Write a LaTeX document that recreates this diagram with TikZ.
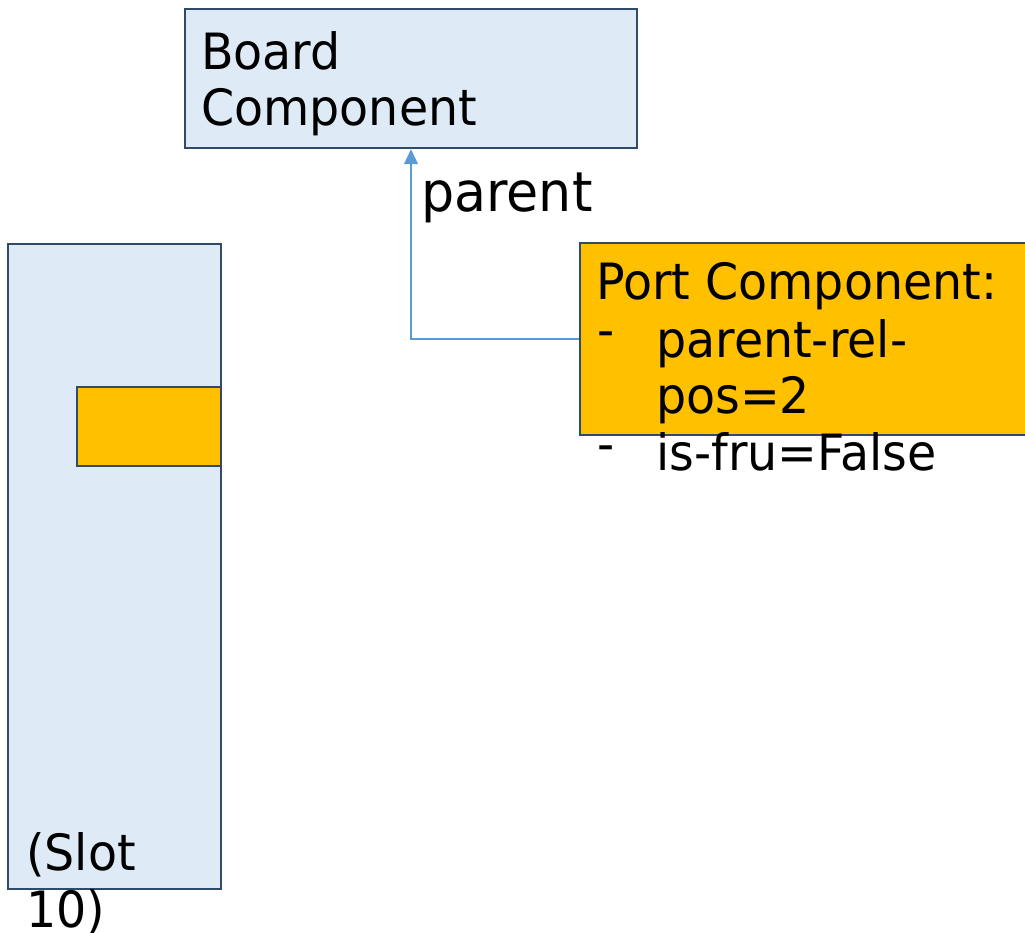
\documentclass[tikz,border=0pt]{standalone}
\usepackage{fontspec}
\setmainfont{DejaVu Sans}[FakeStretch=0.95]
\usetikzlibrary{arrows.meta}
\definecolor{boxfill}{HTML}{DEEBF7}
\definecolor{boxline}{HTML}{2F4B68}
\definecolor{portfill}{HTML}{FFC000}
\definecolor{linkblue}{HTML}{5B9BD5}
\begin{document}
\begin{tikzpicture}[x=1pt,y=-1pt,
  box/.style={draw=boxline, line width=2.5pt, fill=boxfill, inner sep=0pt},
  portbox/.style={draw=boxline, line width=2.5pt, fill=portfill, inner sep=0pt},
  lbl/.style={anchor=base west, inner sep=0pt, font=\fontsize{50}{56}\selectfont},
  link/.style={draw=linkblue, line width=1.2pt, -{Triangle[length=15pt,width=14pt]}}
]
\useasboundingbox (0,0) rectangle (1025,933);

% boxes
\node[box, minimum width=452pt, minimum height=139pt] (board) at (411,78.5) {};
\node[box, minimum width=213pt, minimum height=645pt] (slot) at (114.5,566.5) {};
\node[portbox, minimum width=144pt, minimum height=79pt] (port) at (149,426.5) {};
\node[portbox, minimum width=460pt, minimum height=192pt] (portinfo) at (810,339) {};

% parent link
\draw[link] (portinfo.west) -| (board.south);

% labels
\node[lbl] (boardA) at (201,70) {Board};
\node[lbl] (boardB) at (201,126) {Component};
\node[lbl, font=\fontsize{55}{60}\selectfont] (parentlbl) at (421,212) {parent};
\node[lbl] (slotA) at (26,870) {(Slot};
\node[lbl] (slotB) at (26,927) {10)};
\node[lbl] (infoA) at (596,300) {Port Component:};
\node[lbl] (dashA) at (597,347) {-};
\node[lbl] (infoB) at (656,357) {parent-rel-};
\node[lbl] (infoC) at (656,413) {pos=2};
\node[lbl] (dashB) at (597,461) {-};
\node[lbl] (infoD) at (656,470) {is-fru=False};
\end{tikzpicture}
\end{document}
